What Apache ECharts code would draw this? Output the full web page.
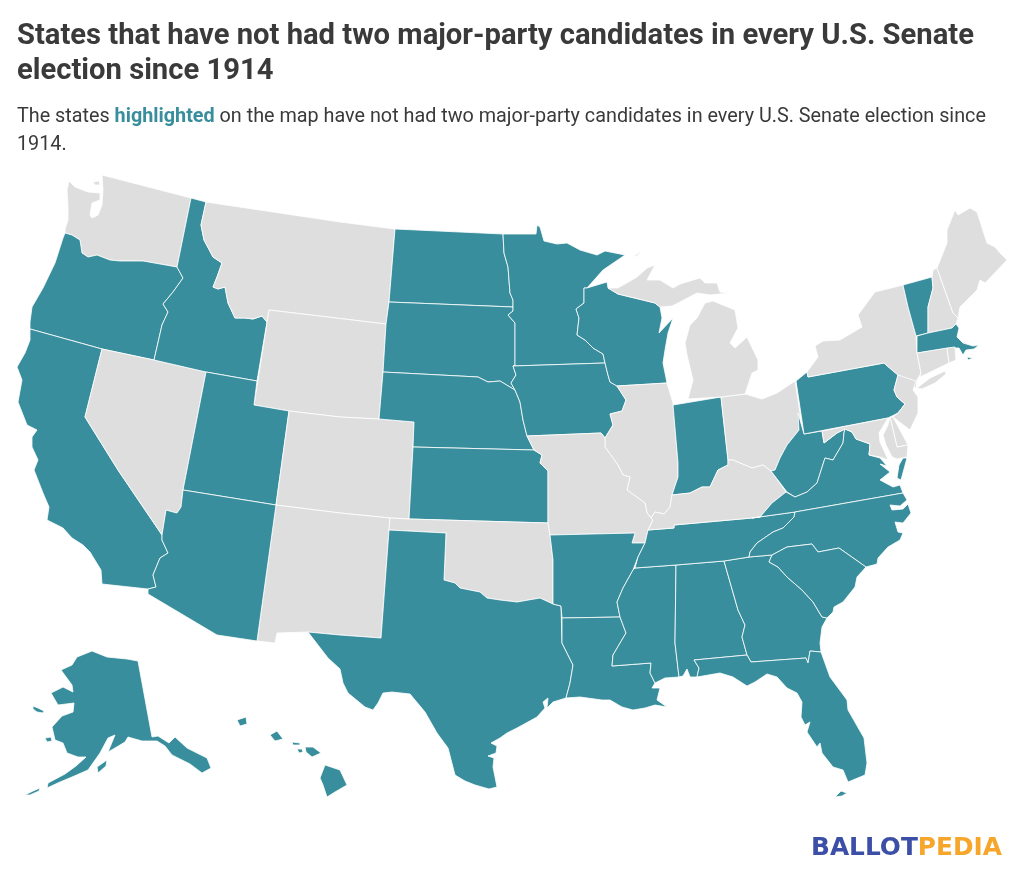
<!DOCTYPE html>
<html><head><meta charset="utf-8">
<style>html,body{margin:0;padding:0;background:#fff}#c{width:1024px;height:877px}</style>
<script src="https://cdn.jsdelivr.net/npm/echarts@6/dist/echarts.min.js"></script>
</head><body><div id="c"></div>
<script>
const titleText = "States that have not had two major-party candidates in every U.S. Senate\nelection since 1914";
const subtitleBefore = "The states ";
const subtitleHighlight = "highlighted";
const subtitleAfter = " on the map have not had two major-party candidates in every U.S. Senate election since";
const subtitleLine2 = "1914.";
const highlightedStates = ["Alabama","Alaska","Arizona","Arkansas","California","Florida","Georgia","Hawaii","Idaho","Indiana","Iowa","Kansas","Louisiana","Massachusetts","Minnesota","Mississippi","Nebraska","North Carolina","North Dakota","Oregon","Pennsylvania","South Carolina","South Dakota","Tennessee","Texas","Utah","Vermont","Virginia","West Virginia","Wisconsin"];
const otherStates = ["Colorado","Connecticut","Delaware","Illinois","Kentucky","Maine","Maryland","Michigan","Missouri","Montana","Nevada","New Hampshire","New Jersey","New Mexico","New York","Ohio","Oklahoma","Rhode Island","Washington","Wyoming"];

// State outlines for the base map (map-sheet units, y downward)
const outlines = {
"Washington":[[[102,175],[191,198],[177,267],[143,261],[120,261],[110,260],[97,255],[88,257],[82,253],[80,240],[72,235],[65,233],[65,229],[68,220],[68,207],[67,190],[69,181],[75,187],[88,192],[100,193],[100,200],[92,203],[90,215],[92,218],[98,215],[102,205],[103,190]],[[93,182],[99,181],[100,185],[95,185]]],
"Oregon":[[[65,233],[72,235],[80,240],[82,253],[88,257],[97,255],[110,260],[120,261],[143,261],[177,267],[183,278],[173,292],[163,304],[168,312],[162,325],[154,360],[102,349],[30,329],[30,322],[32,307],[43,288],[55,263],[63,238]]],
"California":[[[30,329],[102,349],[85,417],[118,470],[162,535],[162,540],[168,553],[160,558],[153,575],[156,587],[148,589],[102,584],[101,570],[90,552],[83,545],[72,538],[63,528],[47,520],[49,507],[43,493],[34,470],[38,460],[32,447],[32,437],[37,430],[27,425],[18,402],[22,380],[17,367],[25,353],[30,340]]],
"Nevada":[[[102,349],[154,360],[206,372],[183,490],[181,507],[177,513],[173,512],[166,510],[162,535],[118,470],[85,417]]],
"Idaho":[[[191,198],[206,202],[201,225],[204,240],[213,257],[222,263],[217,277],[213,287],[218,289],[225,287],[228,303],[235,318],[245,318],[253,319],[262,316],[267,322],[257,381],[206,372],[154,360],[162,325],[168,312],[163,304],[173,292],[183,278],[177,267]]],
"Montana":[[[206,202],[340,222],[395,229],[389,302],[386,324],[269,310],[267,322],[262,316],[253,319],[245,318],[235,318],[228,303],[225,287],[218,289],[213,287],[217,277],[222,263],[213,257],[204,240],[201,225]]],
"Wyoming":[[[269,310],[386,324],[383,372],[379,419],[340,417],[289,411],[254,405]]],
"Utah":[[[206,372],[257,381],[254,405],[289,411],[276,505],[183,490]]],
"Colorado":[[[289,411],[340,417],[379,419],[414,422],[413,447],[409,519],[390,518],[340,513],[276,505]]],
"New Mexico":[[[276,505],[340,513],[390,518],[389,530],[381,638],[340,635],[308,632],[277,633],[275,643],[257,641]]],
"Arizona":[[[183,490],[276,505],[257,641],[217,635],[148,594],[148,589],[156,587],[153,575],[160,558],[168,553],[162,540],[162,535],[166,510],[173,512],[177,513],[181,507]]],
"North Dakota":[[[395,229],[503,234],[504,253],[508,267],[510,293],[513,300],[513,307],[389,302]]],
"South Dakota":[[[389,302],[513,307],[513,311],[508,315],[515,323],[515,366],[513,366],[516,375],[511,383],[515,390],[500,381],[488,382],[478,377],[383,372],[386,324]]],
"Nebraska":[[[383,372],[478,377],[488,382],[500,381],[515,390],[520,402],[523,420],[527,436],[534,450],[413,447],[414,422],[379,419]]],
"Kansas":[[[413,447],[534,450],[542,455],[540,463],[548,471],[548,523],[409,519]]],
"Oklahoma":[[[390,518],[409,519],[548,523],[550,535],[553,560],[553,604],[540,598],[517,602],[500,600],[487,598],[480,592],[460,588],[455,583],[444,580],[446,533],[389,530]]],
"Texas":[[[389,530],[446,533],[444,580],[455,583],[460,588],[480,592],[487,598],[500,600],[517,602],[540,598],[553,604],[561,606],[562,643],[573,665],[570,683],[566,698],[553,702],[547,708],[548,698],[543,702],[545,708],[537,717],[517,728],[507,733],[500,738],[491,743],[497,746],[496,753],[488,756],[494,758],[493,767],[497,787],[489,789],[475,785],[465,781],[455,775],[448,748],[437,733],[425,712],[410,694],[392,692],[383,693],[378,703],[373,710],[365,707],[348,693],[343,683],[340,669],[328,658],[308,632],[340,635],[381,638]]],
"Minnesota":[[[503,234],[536,234],[537,225],[540,227],[544,241],[557,244],[567,243],[580,250],[597,255],[605,251],[625,255],[603,270],[587,288],[584,288],[584,303],[576,309],[579,318],[577,335],[585,340],[593,348],[603,354],[605,363],[513,366],[515,366],[515,323],[508,315],[513,311],[513,307],[513,300],[510,293],[508,267],[504,253]]],
"Iowa":[[[513,366],[605,363],[608,375],[610,382],[617,386],[626,400],[622,411],[610,414],[613,425],[605,438],[601,433],[527,436],[523,420],[520,402],[515,390],[511,383],[516,375]]],
"Wisconsin":[[[587,288],[607,282],[608,288],[618,294],[655,303],[660,307],[662,318],[659,333],[673,318],[668,333],[665,350],[663,363],[667,383],[617,386],[610,382],[608,375],[605,363],[603,354],[593,348],[585,340],[577,335],[579,318],[576,309],[584,303],[584,288]]],
"Illinois":[[[617,386],[667,383],[673,403],[678,463],[678,477],[672,495],[670,507],[664,514],[655,512],[651,518],[647,513],[645,503],[627,490],[630,477],[623,475],[618,465],[605,447],[605,438],[613,425],[610,414],[622,411],[626,400]]],
"Indiana":[[[673,405],[721,397],[728,460],[728,465],[718,470],[710,487],[702,487],[690,493],[672,495],[678,477],[678,463]]],
"Ohio":[[[721,397],[745,394],[762,399],[777,393],[795,381],[800,413],[799,430],[787,445],[780,458],[775,470],[771,471],[763,465],[752,468],[740,463],[733,460],[728,460]]],
"Missouri":[[[527,436],[601,433],[605,438],[605,447],[618,465],[623,475],[630,477],[627,490],[645,503],[647,513],[651,518],[653,520],[648,530],[645,543],[632,543],[635,533],[550,535],[548,523],[548,471],[540,463],[542,455],[534,450]]],
"Arkansas":[[[550,535],[635,533],[632,543],[645,543],[638,557],[633,570],[623,588],[617,602],[620,617],[562,618],[561,606],[553,604],[553,560]]],
"Louisiana":[[[562,618],[620,617],[626,633],[613,655],[612,666],[651,663],[650,673],[655,683],[652,688],[660,688],[657,700],[667,707],[655,705],[645,708],[633,710],[622,707],[610,700],[602,700],[580,697],[566,698],[570,683],[573,665],[562,643]]],
"Mississippi":[[[635,568],[676,565],[675,643],[679,677],[665,678],[655,683],[650,673],[651,663],[612,666],[613,655],[626,633],[620,617],[617,602],[623,588],[633,570]]],
"Alabama":[[[676,565],[724,561],[738,610],[745,625],[742,637],[747,655],[694,660],[699,668],[697,677],[690,677],[687,669],[683,676],[679,677],[675,643]]],
"Georgia":[[[724,561],[749,557],[772,555],[769,562],[778,567],[787,577],[802,590],[813,602],[822,617],[827,618],[822,627],[820,643],[821,652],[810,651],[808,663],[806,658],[751,662],[747,655],[742,637],[745,625],[738,610]]],
"Florida":[[[694,660],[747,655],[751,662],[806,658],[808,663],[810,651],[821,652],[830,677],[847,700],[848,710],[864,738],[867,763],[865,775],[848,782],[843,770],[833,767],[822,753],[820,743],[817,747],[807,732],[810,722],[805,725],[801,717],[802,702],[797,693],[787,688],[777,677],[767,674],[755,682],[747,686],[733,677],[720,673],[697,677],[699,668]],[[835,797],[841,791],[847,793],[842,796]]],
"Tennessee":[[[648,530],[674,528],[674,525],[752,518],[795,512],[794,517],[783,528],[773,532],[757,543],[750,552],[749,557],[724,561],[676,565],[635,568],[638,557],[645,543]]],
"Kentucky":[[[648,530],[674,528],[674,525],[752,518],[760,517],[772,503],[786,492],[771,471],[763,465],[752,468],[740,463],[733,460],[728,460],[728,465],[718,470],[710,487],[702,487],[690,493],[672,495],[670,507],[664,514],[655,512],[651,518],[653,520]]],
"West Virginia":[[[798,413],[804,434],[822,431],[824,443],[837,433],[845,429],[844,433],[843,443],[833,460],[825,458],[817,483],[807,492],[795,497],[787,492],[786,492],[771,471],[775,470],[780,458],[787,445],[799,430]]],
"Virginia":[[[752,518],[760,517],[772,503],[786,492],[787,492],[795,497],[807,492],[817,483],[825,458],[833,460],[843,443],[844,433],[845,429],[852,432],[856,439],[870,444],[869,455],[880,458],[887,466],[880,464],[890,472],[880,480],[893,487],[900,485],[903,493],[795,512]],[[903,458],[907,458],[901,480],[897,478],[899,465]]],
"North Carolina":[[[795,512],[903,493],[907,500],[900,506],[890,505],[892,510],[903,509],[908,504],[911,513],[903,523],[895,522],[898,532],[903,533],[900,540],[888,547],[878,558],[877,564],[866,567],[839,548],[818,552],[812,544],[787,547],[772,555],[749,557],[750,552],[757,543],[773,532],[783,528],[794,517]]],
"South Carolina":[[[772,555],[787,547],[812,544],[818,552],[839,548],[866,567],[857,577],[855,587],[843,602],[834,607],[833,612],[827,618],[822,617],[813,602],[802,590],[787,577],[778,567],[769,562]]],
"Pennsylvania":[[[796,381],[807,372],[808,377],[884,363],[892,370],[898,375],[894,390],[897,397],[905,404],[898,413],[888,418],[804,434]]],
"New York":[[[807,372],[818,357],[815,346],[823,341],[840,340],[862,327],[858,315],[875,292],[903,285],[908,307],[916,336],[917,353],[921,373],[917,380],[916,388],[913,386],[898,375],[892,370],[884,363],[808,377]],[[917,388],[930,378],[945,371],[946,374],[935,383],[922,389]]],
"Vermont":[[[903,285],[932,277],[933,288],[928,307],[928,333],[916,336],[908,307]]],
"New Hampshire":[[[932,277],[933,270],[937,268],[953,313],[958,318],[956,324],[952,328],[928,333],[928,307],[933,288]]],
"Maine":[[[937,268],[947,243],[947,230],[955,210],[958,215],[970,208],[977,212],[987,243],[995,247],[1000,253],[1007,260],[988,280],[985,283],[980,280],[977,290],[960,307],[958,318],[953,313]]],
"Massachusetts":[[[917,336],[928,333],[952,328],[956,324],[959,328],[957,337],[963,343],[973,346],[979,345],[974,349],[966,350],[963,355],[959,348],[950,348],[917,353]],[[967,357],[973,358],[968,360]]],
"Connecticut":[[[917,353],[947,348],[949,363],[920,377],[921,373]]],
"Rhode Island":[[[947,348],[955,347],[956,360],[949,363]]],
"New Jersey":[[[898,375],[916,381],[913,390],[918,397],[918,413],[910,430],[893,417],[898,413],[905,404],[897,397],[894,390]]],
"Delaware":[[[890,417],[893,417],[908,445],[897,447]]],
"Maryland":[[[822,431],[888,418],[885,423],[879,433],[880,442],[886,455],[888,460],[880,457],[869,455],[870,444],[856,439],[852,432],[845,429],[837,433],[824,443]],[[890,417],[897,447],[908,445],[907,457],[897,459],[892,457],[886,445],[883,435],[888,425]]],
"Michigan":[[[688,399],[693,380],[687,355],[685,343],[690,325],[697,318],[705,303],[713,301],[735,310],[738,328],[730,343],[735,348],[747,337],[758,360],[758,370],[752,373],[745,394],[721,397]],[[608,288],[618,288],[637,277],[647,268],[655,265],[647,280],[660,280],[673,288],[680,284],[700,278],[705,283],[717,283],[720,292],[730,293],[710,295],[697,293],[680,302],[672,306],[660,307],[655,303],[618,294]],[[633,257],[642,250],[637,256]]],
"Alaska":[[[92,651],[107,657],[127,659],[138,661],[152,737],[158,736],[169,743],[175,737],[187,748],[207,758],[211,768],[202,773],[190,764],[172,755],[165,746],[157,741],[142,741],[128,737],[125,742],[115,748],[108,752],[115,735],[108,738],[100,753],[88,770],[72,777],[60,782],[47,788],[48,783],[65,774],[76,766],[86,757],[78,757],[67,753],[63,743],[55,740],[52,727],[62,716],[73,712],[74,703],[58,705],[51,693],[63,687],[73,692],[72,685],[61,670],[72,665],[77,657]],[[33,706],[38,708],[44,711],[43,713],[37,712],[33,709]],[[45,738],[51,737],[52,741],[47,742]],[[97,767],[107,760],[106,766],[98,773]],[[25,795],[33,791],[40,788],[39,791],[30,795]]],
"Hawaii":[[[237,720],[246,717],[247,724],[240,726]],[[270,735],[277,731],[283,739],[275,741]],[[292,742],[300,743],[300,745],[293,745]],[[297,749],[302,749],[303,752],[299,753]],[[305,747],[313,747],[321,753],[312,757],[306,752]],[[325,765],[340,770],[347,785],[335,792],[327,797],[323,785],[320,778]]]
};

const features = Object.keys(outlines).map(name => ({
  type: "Feature",
  properties: { name },
  geometry: { type: "MultiPolygon",
    coordinates: outlines[name].map(ring => [ring.concat([ring[0]]).map(p => [p[0], -p[1]])]) }
}));
echarts.registerMap("usa", { type: "FeatureCollection", features });

const teal = "#388e9c", grey = "#dedede", ink = "#3a3a3a";
const mapData = highlightedStates.map(name => ({ name, value: 1, itemStyle: { areaColor: teal } }))
  .concat(otherStates.map(name => ({ name, value: 0, itemStyle: { areaColor: grey } })));

const chart = echarts.init(document.getElementById("c"), null, { renderer: "canvas" });
chart.setOption({
  animation: false,
  backgroundColor: "#fff",
  title: [
    { text: titleText, left: 12, top: 14,
      textStyle: { fontFamily: "Roboto", fontWeight: "bold", fontSize: 29.2, lineHeight: 35, color: ink } },
    { text: "{a|" + subtitleBefore + "}{h|" + subtitleHighlight + "}{a|" + subtitleAfter + "}\n{a|" + subtitleLine2 + "}",
      left: 12, top: 98,
      textStyle: { rich: {
        a: { fontFamily: "Roboto", fontWeight: "normal", fontSize: 19.8, lineHeight: 28, color: ink },
        h: { fontFamily: "Roboto", fontWeight: "bold", fontSize: 19.8, lineHeight: 28, color: teal } } } },
    { text: "{b|BALLOT}{o|PEDIA}", left: 806, top: 831,
      textStyle: { rich: {
        b: { fontFamily: "DejaVu Sans", fontWeight: "bold", fontSize: 24.8, color: "#3c4fa6" },
        o: { fontFamily: "DejaVu Sans", fontWeight: "bold", fontSize: 24.8, color: "#f5a62b" } } } }
  ],
  series: [{
    type: "map", map: "usa", silent: true, roam: false, selectedMode: false,
    aspectScale: 1,
    boundingCoords: [[0, 0], [1024, -877]],
    left: 0, top: 0, right: 0, bottom: 0,
    label: { show: false },
    itemStyle: { borderColor: "#fff", borderWidth: 0.8, areaColor: grey },
    emphasis: { disabled: true },
    data: mapData
  }]
});
</script></body></html>
